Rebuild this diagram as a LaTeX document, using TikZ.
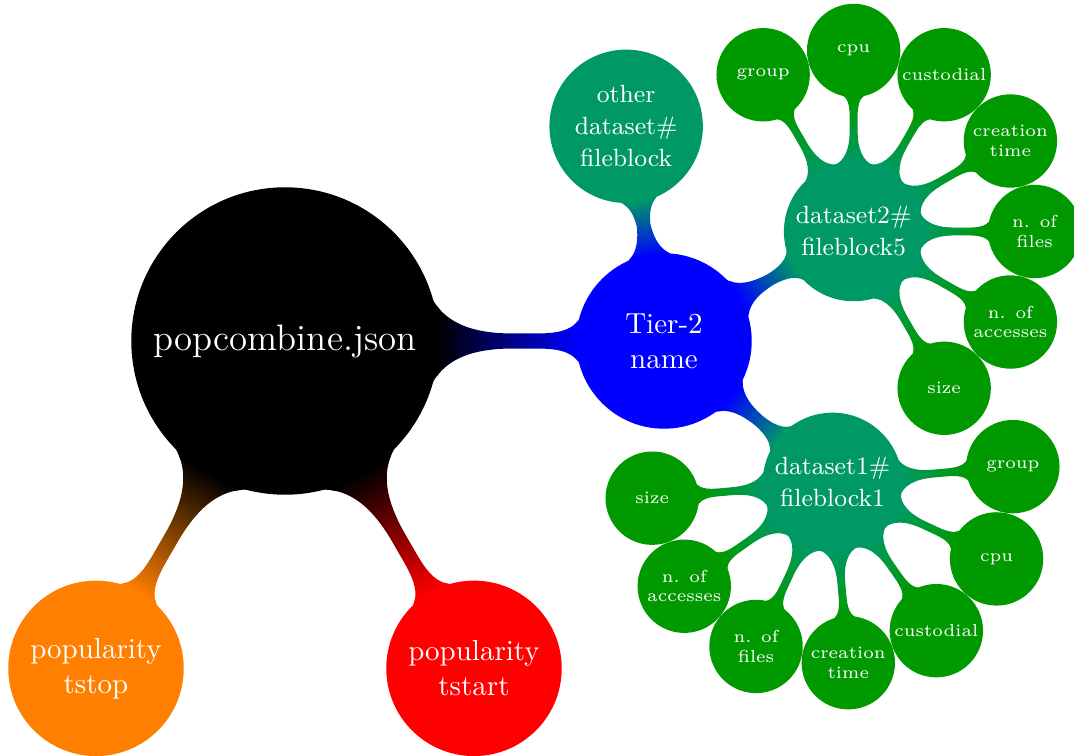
\documentclass[tikz,border=0pt]{standalone}
\usetikzlibrary{mindmap,backgrounds,calc}
\definecolor{blockteal}{rgb}{0,0.6,0.4}
\definecolor{fieldgreen}{rgb}{0,0.6,0}
\definecolor{popOrange}{rgb}{1,0.5,0}
\begin{document}
\begin{tikzpicture}[mindmap, x=0.344828pt, y=0.344828pt,
  bubble/.style={concept, text=white, inner sep=0pt, text width={}, align=center},
  rootbubble/.style={bubble, concept color=black, minimum size=104.8pt,
    font=\fontsize{12.7}{15}\selectfont},
  topicbubble/.style={bubble, minimum size=59.3pt, font=\fontsize{10}{12}\selectfont},
  blockbubble/.style={bubble, concept color=blockteal, minimum size=46.9pt,
    font=\fontsize{8.6}{11}\selectfont},
  fieldbubble/.style={bubble, concept color=fieldgreen, minimum size=31pt,
    font=\fontsize{6}{6.7}\selectfont},
  trunk/.style={line width=5.8pt},
  branch/.style={line width=3.8pt},
  twig/.style={line width=3pt}]
\useasboundingbox (0,0) rectangle (1074,-756);

% root and first level
\node[rootbubble] (root) at (285,-341) {popcombine.json};
\node[topicbubble, concept color=blue] (tier) at ($(root)+(0:379)$) {Tier-2\\name};
\node[topicbubble, concept color=popOrange] (tstop) at ($(root)+(240:378)$) {popularity\\tstop};
\node[topicbubble, concept color=red] (tstart) at ($(root)+(300:378)$) {popularity\\tstart};

% file blocks
\node[blockbubble, minimum size=51.7pt] (other) at ($(tier)+(100:218)$) {other\\dataset\#\\fileblock};
\node[blockbubble] (dsb) at ($(tier)+(30:219)$) {dataset2\#\\fileblock5};
\node[blockbubble] (dsa) at ($(tier)+(-40:220)$) {dataset1\#\\fileblock1};

% fields of dataset2
\foreach \nm/\ang/\txt in {bgroup/120/group, bcpu/90/cpu, bcust/60/custodial,
    bctime/30/{creation\\time}, bnfiles/0/{n. of\\files},
    bnacc/-30/{n. of\\accesses}, bsize/-60/size}
  \node[fieldbubble] (\nm) at ($(dsb)+(\ang:181)$) {\txt};

% fields of dataset1
\foreach \nm/\ang/\txt in {agroup/5/group, acpu/-25/cpu, acust/-55/custodial,
    actime/-85/{creation\\time}, anfiles/-115/{n. of\\files},
    anacc/-145/{n. of\\accesses}, asize/-175/size}
  \node[fieldbubble] (\nm) at ($(dsa)+(\ang:181)$) {\txt};

\begin{pgfonlayer}{background}
  \path[trunk] (root) to[circle connection bar switch color=from (black) to (blue)] (tier);
  \path[trunk] (root) to[circle connection bar switch color=from (black) to (popOrange)] (tstop);
  \path[trunk] (root) to[circle connection bar switch color=from (black) to (red)] (tstart);
  \foreach \b in {other, dsb, dsa}
    \path[branch] (tier) to[circle connection bar switch color=from (blue) to (blockteal)] (\b);
  \foreach \f in {bgroup, bcpu, bcust, bctime, bnfiles, bnacc, bsize}
    \path[twig] (dsb) to[circle connection bar switch color=from (blockteal) to (fieldgreen)] (\f);
  \foreach \f in {agroup, acpu, acust, actime, anfiles, anacc, asize}
    \path[twig] (dsa) to[circle connection bar switch color=from (blockteal) to (fieldgreen)] (\f);
\end{pgfonlayer}
\end{tikzpicture}
\end{document}
